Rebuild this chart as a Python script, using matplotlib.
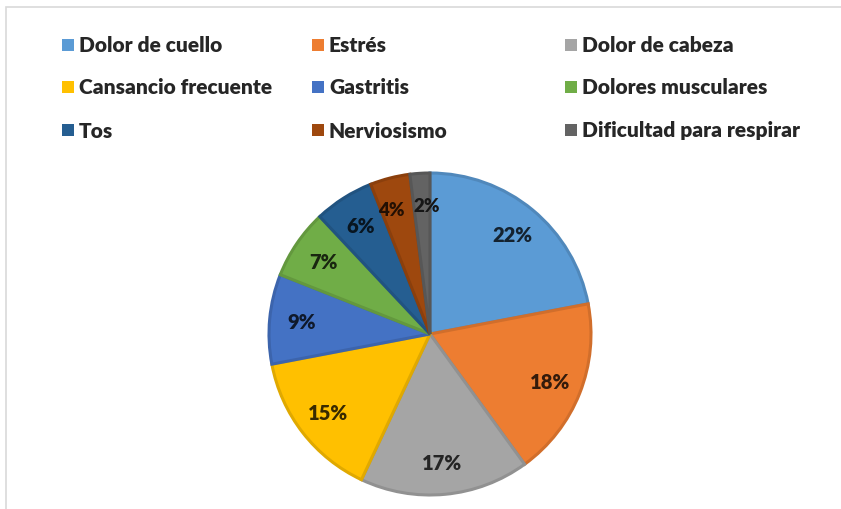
import matplotlib.pyplot as plt
import matplotlib.colors as mcolors
from matplotlib.patches import Rectangle

# Sintomas reportados (porcentaje)
sintomas = ['Dolor de cuello', 'Estrés', 'Dolor de cabeza',
            'Cansancio frecuente', 'Gastritis', 'Dolores musculares',
            'Tos', 'Nerviosismo', 'Dificultad para respirar']
porcentajes = [22, 18, 17, 15, 9, 7, 6, 4, 2]
colores = ['#5B9BD5', '#ED7D31', '#A5A5A5', '#FFC000', '#4472C4',
           '#70AD47', '#255E91', '#9E480E', '#636363']

plt.rcParams['font.family'] = ['Lato', 'DejaVu Sans']


def oscurecer(c, f):
    r, g, b = mcolors.to_rgb(c)
    return (r * f, g * f, b * f)


fig = plt.figure(figsize=(8.41, 5.10), dpi=100)
W, H = 841, 510

# marco del grafico
fig.patches.append(Rectangle((6 / W, -0.1), 1.2, (H - 8) / H + 0.1,
                             transform=fig.transFigure, fill=False,
                             edgecolor='#d9d9d9', linewidth=1.2))

# pastel
cx, cy, rad = 430, 335, 161
lim = 1.06
ax = fig.add_axes([(cx - rad * lim) / W, (H - cy - rad * lim) / H,
                   2 * rad * lim / W, 2 * rad * lim / H])
wedges, textos, autotextos = ax.pie(
    porcentajes, colors=colores, startangle=90, counterclock=False,
    autopct='%d%%', pctdistance=0.8, radius=1,
    wedgeprops=dict(linewidth=2.2))
for w, c in zip(wedges, colores):
    w.set_edgecolor(oscurecer(c, 0.88))
for t, c in zip(autotextos, colores):
    t.set_color(oscurecer(c, 0.22))
    t.set_fontsize(14.5)
    t.set_fontweight('heavy')

# separar un poco las etiquetas de las rebanadas mas angostas
x4, y4 = autotextos[7].get_position()
autotextos[7].set_position((x4 - 0.04, y4))
autotextos[7].set_fontsize(13.5)
x2, y2 = autotextos[8].get_position()
autotextos[8].set_position((x2 + 0.03, y2))
autotextos[8].set_fontsize(13.5)

ax.set_xlim(-lim, lim)
ax.set_ylim(-lim, lim)
ax.set_aspect('equal')
ax.axis('off')

# leyenda en tres columnas
col_x = [62, 312, 565]
fila_y = [46, 88, 131]
for i, (nombre, c) in enumerate(zip(sintomas, colores)):
    x = col_x[i % 3]
    y = fila_y[i // 3]
    fig.patches.append(Rectangle((x / W, (H - y - 6) / H), 12 / W, 12 / H,
                                 transform=fig.transFigure, facecolor=c,
                                 edgecolor='none'))
    fig.text((x + 17) / W, (H - y) / H, nombre, fontsize=15,
             fontweight='heavy', color='#262626', va='center', ha='left')

fig.savefig('out.png', dpi=100, facecolor='white')
